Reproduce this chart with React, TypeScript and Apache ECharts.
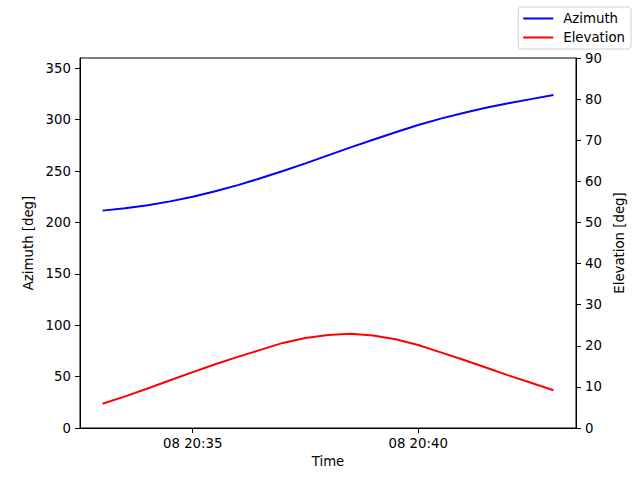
import React, { useEffect, useRef } from "react";
import * as echarts from "echarts";

const times = [
  "20:33:00", "20:33:30", "20:34:00", "20:34:30", "20:35:00", "20:35:30", "20:36:00",
  "20:36:30", "20:37:00", "20:37:30", "20:38:00", "20:38:30", "20:39:00", "20:39:30",
  "20:40:00", "20:40:30", "20:41:00", "20:41:30", "20:42:00", "20:42:30", "20:43:00",
];
const azimuth = [
  211.5, 213.8, 216.8, 220.5, 225, 230.3, 236.3, 243, 250, 257.5, 265.3, 273, 280.5,
  287.8, 294.8, 301, 306.5, 311.5, 316, 320, 324,
];
const elevation = [
  5.9, 7.7, 9.6, 11.6, 13.6, 15.5, 17.3, 19.0, 20.7, 21.9, 22.6, 22.9, 22.5, 21.6,
  20.2, 18.4, 16.6, 14.7, 12.8, 11.0, 9.2,
];
const xTickTimes = ["20:35:00", "20:40:00"];
const azTicks = [0, 50, 100, 150, 200, 250, 300, 350];
const elTicks = [0, 10, 20, 30, 40, 50, 60, 70, 80, 90];
const xMinTime = "20:32:30";
const xMaxTime = "20:43:30";

const toTs = (s: string) => {
  const [h, m, sec] = s.split(":").map(Number);
  return Date.UTC(2024, 0, 8, h, m, sec);
};
const pad = (n: number) => String(n).padStart(2, "0");

const FONT = "DejaVu Sans";
const FS = 13.3;

export default function App() {
  const ref = useRef<HTMLDivElement>(null);
  useEffect(() => {
    document.body.style.margin = "0";
    if (!ref.current) return;
    const chart = echarts.init(ref.current, undefined, { renderer: "svg" });
    const axisCommon = {
      axisLine: { show: true, lineStyle: { color: "#000", width: 1 } },
      axisTick: { show: true, inside: false, length: 5, lineStyle: { color: "#000", width: 1 } },
      splitLine: { show: false },
      nameTextStyle: { color: "#000", fontFamily: FONT, fontSize: FS },
    };
    const labelStyle = { color: "#000", fontFamily: FONT, fontSize: FS };
    chart.setOption({
      animation: false,
      backgroundColor: "#fff",
      textStyle: { fontFamily: FONT },
      grid: {
        left: 80,
        right: 64,
        top: 58,
        bottom: 52,
        show: true,
        borderColor: "#000",
        borderWidth: 1,
        backgroundColor: "transparent",
      },
      legend: {
        orient: "vertical",
        right: 9,
        top: 7,
        backgroundColor: "#fff",
        borderColor: "#d0d0d0",
        borderWidth: 1,
        borderRadius: 3,
        padding: [5, 6, 5, 5],
        itemGap: 6,
        itemWidth: 30,
        itemHeight: 2,
        icon: "rect",
        textStyle: { ...labelStyle, padding: [0, 0, 0, 5] },
        data: ["Azimuth", "Elevation"],
      },
      xAxis: {
        type: "value",
        min: toTs(xMinTime),
        max: toTs(xMaxTime),
        name: "Time",
        nameLocation: "middle",
        nameGap: 27,
        ...axisCommon,
        axisTick: { ...axisCommon.axisTick, customValues: xTickTimes.map(toTs) },
        axisLabel: {
          ...labelStyle,
          margin: 9,
          customValues: xTickTimes.map(toTs),
          formatter: (v: number) => {
            const d = new Date(v);
            return `${pad(d.getUTCDate())} ${pad(d.getUTCHours())}:${pad(d.getUTCMinutes())}`;
          },
        },
      },
      yAxis: [
        {
          type: "value",
          min: 0,
          max: 360,
          name: "Azimuth [deg]",
          nameLocation: "middle",
          nameGap: 43,
          position: "left",
          ...axisCommon,
          axisTick: { ...axisCommon.axisTick, customValues: azTicks },
          axisLabel: { ...labelStyle, margin: 9, customValues: azTicks },
        },
        {
          type: "value",
          min: 0,
          max: 90,
          name: "Elevation [deg]",
          nameLocation: "middle",
          nameGap: 36,
          position: "right",
          ...axisCommon,
          axisTick: { ...axisCommon.axisTick, customValues: elTicks },
          axisLabel: { ...labelStyle, margin: 9, customValues: elTicks },
        },
      ],
      series: [
        {
          name: "Azimuth",
          type: "line",
          yAxisIndex: 0,
          showSymbol: false,
          symbol: "none",
          lineStyle: { color: "#0000ff", width: 2 },
          itemStyle: { color: "#0000ff" },
          data: times.map((t, i) => [toTs(t), azimuth[i]]),
        },
        {
          name: "Elevation",
          type: "line",
          yAxisIndex: 1,
          showSymbol: false,
          symbol: "none",
          lineStyle: { color: "#ff0000", width: 2 },
          itemStyle: { color: "#ff0000" },
          data: times.map((t, i) => [toTs(t), elevation[i]]),
        },
      ],
    });
    return () => chart.dispose();
  }, []);
  return <div ref={ref} style={{ width: 640, height: 480 }} />;
}
